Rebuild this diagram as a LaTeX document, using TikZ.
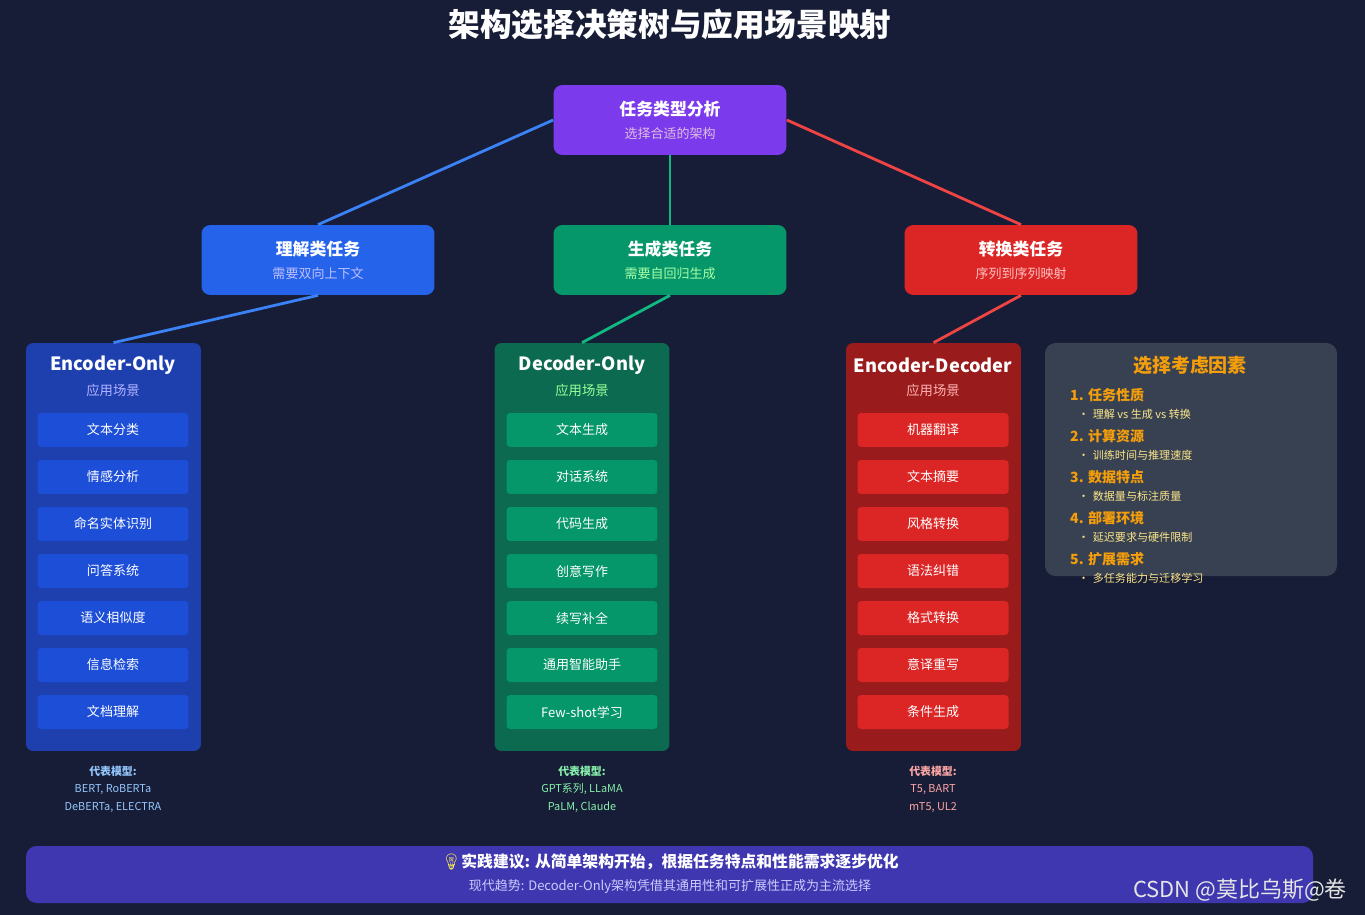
\documentclass[tikz,border=0pt]{standalone}
\usepackage{fontspec}
\setmainfont{Noto Sans CJK SC}
\newfontfamily\emojifont{Noto Emoji}
\usetikzlibrary{positioning}
\definecolor{BgNavy}{HTML}{171D36}
\definecolor{RootPurple}{HTML}{7C3AED}
\definecolor{UBlue}{HTML}{2563EB}
\definecolor{GGreen}{HTML}{059669}
\definecolor{TRed}{HTML}{DC2626}
\definecolor{LineBlue}{HTML}{3B82F6}
\definecolor{LineGreen}{HTML}{10B981}
\definecolor{LineRed}{HTML}{EF4444}
\definecolor{ColBlue}{HTML}{1E40AF}
\definecolor{ColGreen}{HTML}{0B6A4F}
\definecolor{ColRed}{HTML}{991B1B}
\definecolor{ItemBlue}{HTML}{1D4ED8}
\definecolor{PanelGray}{HTML}{374151}
\definecolor{FactorOrange}{HTML}{F59E0B}
\definecolor{FactorYellow}{HTML}{FDE68A}
\definecolor{TipIndigo}{HTML}{3F37B0}
\definecolor{ModelBlue}{HTML}{93C5FD}
\definecolor{ModelGreen}{HTML}{86EFAC}
\definecolor{ModelRed}{HTML}{FCA5A5}
\tikzset{
  taskbox/.style={rectangle, rounded corners=5pt, minimum width=4.66cm, minimum height=1.4cm, align=center, text=white, inner sep=0pt},
  colbox/.style={rectangle, rounded corners=4pt, minimum width=3.5cm, minimum height=8.16cm, inner sep=0pt},
  itembox/.style={rectangle, rounded corners=2pt, minimum width=3.02cm, minimum height=0.68cm, text=white, font=\fontsize{7.4}{8}\selectfont, inner sep=0pt},
  link/.style={line width=1.6pt},
  coltitle/.style={text=white, font=\fontsize{10.4}{12}\selectfont\bfseries},
  colsub/.style={font=\fontsize{7.6}{8}\selectfont},
  modeltext/.style={font=\fontsize{6.2}{10}\selectfont, align=center},
  factorhead/.style={anchor=west, text=FactorOrange, font=\fontsize{8}{9}\selectfont\bfseries},
  factoritem/.style={anchor=west, text=FactorYellow, font=\fontsize{6.3}{7}\selectfont}
}
\begin{document}
\begin{tikzpicture}[x=0.02cm, y=-0.02cm]
  \fill[BgNavy] (0,0) rectangle (1365,915);
  \node[text=white, font=\fontsize{18}{20}\selectfont\bfseries] (title) at (670,25) {架构选择决策树与应用场景映射};

  % decision tree
  \node[taskbox, fill=RootPurple] (root) at (670,120) {\fontsize{9.6}{12}\selectfont\bfseries 任务类型分析\\[1pt]{\fontsize{7.4}{9}\selectfont\color{violet!25} 选择合适的架构}};
  \node[taskbox, fill=UBlue] (under) at (318,260) {\fontsize{9.6}{12}\selectfont\bfseries 理解类任务\\[1pt]{\fontsize{7.4}{9}\selectfont\color{blue!25} 需要双向上下文}};
  \node[taskbox, fill=GGreen] (gen) at (670,260) {\fontsize{9.6}{12}\selectfont\bfseries 生成类任务\\[1pt]{\fontsize{7.4}{9}\selectfont\color{green!35} 需要自回归生成}};
  \node[taskbox, fill=TRed] (trans) at (1021,260) {\fontsize{9.6}{12}\selectfont\bfseries 转换类任务\\[1pt]{\fontsize{7.4}{9}\selectfont\color{red!25} 序列到序列映射}};

  \draw[link, LineBlue] (root.west) -- (under.north);
  \draw[link, LineGreen] (root.south) -- (gen.north);
  \draw[link, LineRed] (root.east) -- (trans.north);

  % architecture columns
  \node[colbox, fill=ColBlue] (enc) at (113.5,547) {};
  \node[colbox, fill=ColGreen] (dec) at (582,547) {};
  \node[colbox, fill=ColRed] (encdec) at (933.5,547) {};

  \draw[link, LineBlue] (under.south) -- (enc.north);
  \draw[link, LineGreen] (gen.south) -- (dec.north);
  \draw[link, LineRed] (trans.south) -- (encdec.north);

  \node[coltitle] (enct) at (113,365) {Encoder-Only};
  \node[colsub, text=blue!30] at (113,390) {应用场景};
  \node[coltitle] (dect) at (582,365) {Decoder-Only};
  \node[colsub, text=green!40] at (582,390) {应用场景};
  \node[coltitle] (encdect) at (933,365) {Encoder-Decoder};
  \node[colsub, text=red!30] at (933,390) {应用场景};

  \foreach \t [count=\i] in {文本分类,情感分析,命名实体识别,问答系统,语义相似度,信息检索,文档理解}
    \node[itembox, fill=ItemBlue] (enc\i) at (113,{430+47*(\i-1)}) {\t};
  \foreach \t [count=\i] in {文本生成,对话系统,代码生成,创意写作,续写补全,通用智能助手,Few-shot学习}
    \node[itembox, fill=GGreen] (dec\i) at (582,{430+47*(\i-1)}) {\t};
  \foreach \t [count=\i] in {机器翻译,文本摘要,风格转换,语法纠错,格式转换,意译重写,条件生成}
    \node[itembox, fill=TRed] (encdec\i) at (933,{430+47*(\i-1)}) {\t};

  % representative models
  \node[modeltext, text=ModelBlue] (encm) at (113,789) {\textbf{代表模型:}\\BERT, RoBERTa\\DeBERTa, ELECTRA};
  \node[modeltext, text=ModelGreen] (decm) at (582,789) {\textbf{代表模型:}\\GPT系列, LLaMA\\PaLM, Claude};
  \node[modeltext, text=ModelRed] (encdecm) at (933,789) {\textbf{代表模型:}\\T5, BART\\mT5, UL2};

  % selection factors
  \fill[PanelGray, rounded corners=6pt] (1045,343) rectangle (1337,576);
  \node[text=FactorOrange, font=\fontsize{10.8}{12}\selectfont\bfseries] (factors) at (1190,365) {选择考虑因素};
  \foreach \h/\b [count=\i] in {1. 任务性质/理解 vs 生成 vs 转换, 2. 计算资源/训练时间与推理速度, 3. 数据特点/数据量与标注质量, 4. 部署环境/延迟要求与硬件限制, 5. 扩展需求/多任务能力与迁移学习} {
    \node[factorhead] (fh\i) at (1064,{395+41*(\i-1)}) {\h};
    \node[factoritem] (fi\i) at (1072,{414+41*(\i-1)}) {•\hspace{2pt}\b};
  }

  % practice tip
  \fill[TipIndigo, rounded corners=6pt] (26,846) rectangle (1313,903);
  \node[text=white, font=\fontsize{9}{10}\selectfont\bfseries] (tip) at (670,862) {{\emojifont\color{yellow!70}💡}实践建议: 从简单架构开始，根据任务特点和性能需求逐步优化};
  \node[text=blue!20, font=\fontsize{7.4}{8}\selectfont] (trend) at (670,887) {现代趋势: Decoder-Only架构凭借其通用性和可扩展性正成为主流选择};
  \node[text=white!80!gray, font=\fontsize{12.5}{13}\selectfont] (mark) at (1240,890) {CSDN @莫比乌斯@卷};
\end{tikzpicture}
\end{document}
